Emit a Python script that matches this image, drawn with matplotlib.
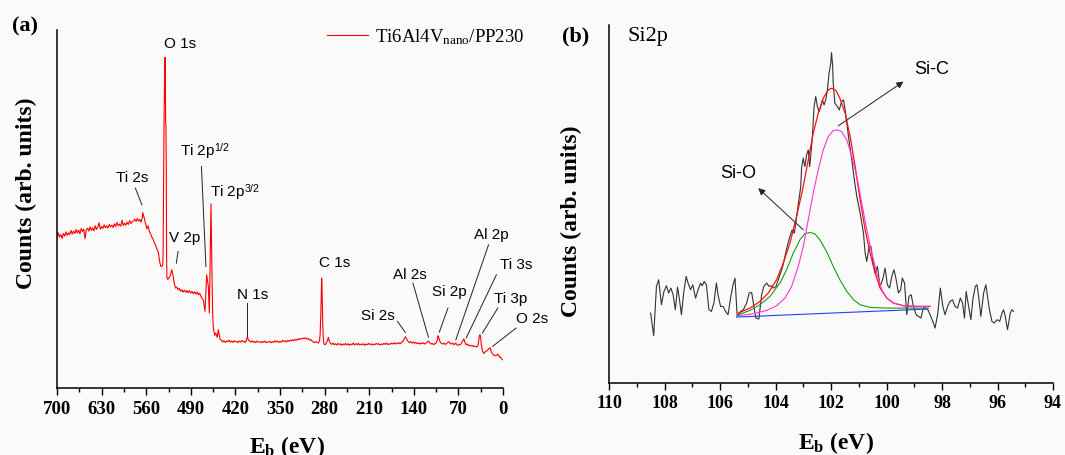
import matplotlib
matplotlib.use("Agg")
import matplotlib.pyplot as plt

plt.rcParams['font.family'] = 'Liberation Serif'
plt.rcParams['mathtext.fontset'] = 'custom'
plt.rcParams['mathtext.rm'] = 'Liberation Serif'
plt.rcParams['mathtext.it'] = 'Liberation Serif:italic'
plt.rcParams['mathtext.bf'] = 'Liberation Serif:bold'
plt.rcParams['mathtext.sf'] = 'Liberation Sans'

# ---- (a) survey spectrum, Ti6Al4Vnano/PP230 ----
survey_eb = [700, 698, 696, 694, 692, 690, 688, 686, 684, 682, 680, 678, 676, 674, 672, 670, 668, 666, 664,
             662, 660, 658, 656, 654, 652, 650, 648, 646, 644, 642, 640, 638, 636, 634, 632, 630, 628, 626,
             624, 622, 620, 618, 616, 614, 612, 610, 608, 606, 604, 602, 600, 598, 596, 594, 592, 590, 588,
             586, 584, 582, 580, 578, 576, 574, 572, 570, 568, 566, 565.5, 563, 561, 559, 557, 555, 553, 551,
             549, 547, 545, 543, 541, 539, 537, 535.7, 534, 533.5, 533, 532, 531, 530.5, 530, 529.5, 529,
             528.5, 528, 527.5, 526, 524, 522, 520, 518, 516, 514, 512, 510, 508, 506, 504, 502, 500, 498,
             496, 494, 492, 490, 488, 486, 484, 482, 480, 478, 476, 474, 472, 470.4, 467.7, 465.1, 462.5,
             460.9, 459.5, 458.3, 456.7, 455.6, 454.6, 452.5, 450.7, 448.5, 446.8, 444, 441.5,
             440, 438, 436, 434, 432, 430, 428, 426, 424, 422, 420, 418, 416, 414, 412, 410, 408, 406, 404,
             402, 401, 400, 398, 396, 394, 392, 390, 388, 386, 384, 382, 380, 378, 376, 374, 372, 370, 368,
             366, 364, 362, 360, 358, 356, 354, 352, 350, 348, 346, 344, 342, 340, 338, 336, 334, 332, 330,
             328, 326, 324, 322, 320, 318, 316, 314, 312, 310, 308, 306, 304, 302, 300, 298, 296, 294, 292,
             290, 288, 287, 286, 285, 284.6, 284, 283, 282, 281, 279, 277, 275, 274, 273, 271, 269, 267, 265,
             263, 261, 259, 257, 255, 253, 251, 249, 247, 245, 243, 241, 239, 237, 235, 233, 231, 229, 227,
             225, 223, 221, 219, 217, 215, 213, 211, 209, 207, 205, 203, 201, 199, 197, 195, 193, 191, 189,
             187, 185, 183, 181, 179, 177, 175, 173, 171, 169, 167, 165, 163, 161, 159, 157, 155, 153, 151,
             149, 147, 145, 143, 141, 139, 137, 135, 133, 131, 129, 127, 125, 123, 121, 119, 117, 115, 113,
             111, 109, 107, 105, 103, 102, 101, 99, 97, 95, 93, 91, 89, 87, 85, 83, 81, 79, 77, 75, 74, 73,
             71, 69, 67, 65, 63, 62, 61, 60, 58, 56, 54, 52, 50, 48, 46, 44, 42, 40, 39, 38, 37, 36, 35, 34,
             33, 32, 31, 30, 29, 28, 26, 24, 22, 21, 20, 19, 18, 16, 14, 12, 10, 9, 8, 7, 6, 5, 4, 3, 2, 1]
survey_counts = [45.0, 46.6, 45.3, 46.1, 44.9, 46.4, 45.6, 46.9, 45.8, 46.6, 46.1, 47.3, 46.2, 47.1, 46.4, 47.6, 46.5, 47.4, 46.3,
                 47.9, 47.0, 47.7, 44.8, 47.5, 48.0, 47.1, 48.4, 47.3, 48.1, 47.2, 48.7, 47.6, 48.3, 49.6, 47.7, 48.5, 47.9, 49.0,
                 48.1, 48.7, 48.0, 49.1, 48.4, 48.9, 48.2, 49.3, 48.5, 49.7, 48.7, 49.2, 48.6, 50.4, 48.8, 49.5, 48.9, 49.8, 49.1,
                 50.3, 49.4, 49.9, 50.2, 50.7, 50.0, 50.9, 50.1, 50.6, 49.8, 51.2, 52.7, 51.0, 49.3, 47.8, 48.7, 47.0, 46.2, 45.3,
                 44.6, 43.5, 42.8, 41.6, 40.8, 38.0, 36.5, 36.5, 37.0, 40.0, 55.0, 80.0, 95.0, 99.3, 92.0, 80.0, 78.5,
                 65.0, 40.0, 33.0, 32.6, 33.2, 33.8, 35.5, 34.0, 31.5, 30.0, 30.3, 29.5, 29.9, 29.0, 29.5, 28.8, 29.4, 28.7,
                 29.3, 28.6, 29.2, 28.5, 29.0, 28.3, 28.9, 28.2, 28.8, 28.0, 28.5, 27.4, 26.8, 26.5, 23.0, 34.0, 30.5,
                 22.5, 40.0, 55.3, 33.5, 21.5, 18.0, 15.8, 16.5, 15.2, 17.5, 14.6, 14.3,
                 13.8, 14.2, 13.7, 14.1, 13.9, 14.4, 13.8, 14.1, 13.7, 14.2, 13.9, 14.0, 13.6, 14.1, 13.8, 14.3, 13.9, 14.0, 13.7,
                 14.8, 15.4, 14.6, 14.1, 13.8, 14.2, 13.7, 14.0, 13.6, 14.1, 13.8, 13.9, 13.6, 14.0, 13.7, 14.1, 13.6, 13.9, 13.7,
                 14.0, 13.6, 13.9, 13.7, 14.2, 13.8, 14.1, 13.7, 14.0, 13.8, 14.3, 13.9, 14.2, 13.8, 14.3, 14.0, 14.4, 14.1, 14.5,
                 14.2, 14.6, 14.3, 14.8, 14.5, 14.9, 14.7, 15.0, 14.8, 15.1, 14.7, 14.9, 14.4, 14.6, 14.1, 13.9, 13.6, 13.9, 13.7,
                 13.5, 14.2, 16.0, 22.0, 30.0, 33.0, 30.0, 20.0, 14.5, 13.2, 13.0, 13.6, 14.6, 15.2, 14.2, 13.4, 13.1, 13.5, 13.0,
                 13.3, 12.9, 13.4, 13.0, 13.3, 12.8, 13.2, 13.0, 13.4, 12.9, 13.3, 12.8, 13.2, 13.0, 13.5, 12.9, 13.3, 13.0, 13.4,
                 12.9, 13.2, 13.0, 13.3, 12.8, 13.2, 13.0, 13.4, 13.0, 13.3, 12.9, 13.2, 13.0, 13.4, 13.1, 13.3, 12.9, 13.2, 13.0,
                 13.4, 13.1, 13.5, 13.0, 13.3, 13.1, 13.5, 13.2, 13.6, 13.2, 13.5, 13.3, 13.6, 13.3, 13.8, 14.0, 14.8, 15.4, 14.6,
                 14.0, 13.6, 13.9, 13.5, 13.8, 13.4, 13.7, 13.3, 13.6, 13.2, 13.5, 13.3, 13.6, 13.2, 13.5, 13.8, 14.1, 13.6, 13.2,
                 13.4, 13.0, 13.3, 13.5, 14.4, 15.7, 15.2, 14.0, 13.4, 13.2, 13.5, 13.1, 13.3, 13.6, 13.9, 13.4, 13.2, 13.5, 13.0, 13.3, 13.5, 13.1,
                 12.8, 13.0, 13.0, 13.5, 14.2, 14.7, 14.6, 13.8, 13.0, 13.2, 12.7, 12.9, 12.6, 12.8, 12.4, 12.6, 12.3, 12.5, 13.0, 14.5, 15.8, 16.0, 15.0, 13.0,
                 11.8, 11.0, 10.6, 10.4, 10.6, 10.9, 11.1, 11.4, 11.8, 12.0, 12.0, 11.4, 10.7, 10.2, 9.8, 9.7, 9.8, 10.0, 10.1, 9.9, 9.5, 9.2, 9.3, 9.0, 8.8, 8.5]

# peak labels: text, label position (eV, counts), leader line or None
survey_labels = ['O 1s', 'Ti 2s', 'V 2p', r'Ti 2p$^{\mathsf{1/2}}$', r'Ti 2p$^{\mathsf{3/2}}$', 'N 1s',
                 'C 1s', 'Si 2s', 'Al 2s', 'Si 2p', 'Al 2p', 'Ti 3s', 'Ti 3p', 'O 2s']
label_eb = [506.8, 582.3, 499.2, 468.0, 420.0, 393.4, 264.5, 197.0, 146.8, 84.7, 18.9, -21.0, -12.0, -45.0]
label_counts = [103.3, 63.2, 45.0, 71.0, 58.5, 28.0, 37.5, 21.5, 34.0, 28.8, 45.8, 36.8, 26.8, 20.8]
leader_lines = [None,
                ((566.7, 55.0), (577.0, 60.0)),
                ((512.7, 37.5), (510.0, 41.0)),
                ((466.3, 36.5), (473.3, 66.5)),
                None,
                ((401.5, 15.5), (401.5, 25.5)),
                None,
                ((153.3, 16.7), (165.7, 20.0)),
                ((117.1, 15.3), (141.4, 31.5)),
                ((99.9, 16.8), (86.4, 24.0)),
                ((74.0, 14.5), (22.7, 43.0)),
                ((57.8, 15.0), (10.3, 34.0)),
                ((32.4, 16.5), (8.1, 24.0)),
                ((16.2, 12.5), (-20.5, 18.0))]

# ---- (b) Si2p high resolution ----
si_eb = [108.50, 108.39, 108.29, 108.21, 108.11, 108.02, 107.93, 107.85, 107.77, 107.69, 107.61, 107.53,
         107.46, 107.39, 107.31, 107.22, 107.15, 107.06, 106.98, 106.88, 106.79, 106.70, 106.64, 106.57,
         106.49, 106.40, 106.31, 106.22, 106.13, 106.07, 105.98, 105.89, 105.80, 105.71, 105.61, 105.53,
         105.46, 105.38, 105.26, 105.16, 105.04, 104.95, 104.86, 104.78, 104.71, 104.60, 104.50, 104.42,
         104.32, 104.23, 104.14, 104.08, 103.98, 103.90, 103.82, 103.74, 103.66, 103.58, 103.48, 103.40,
         103.32, 103.28, 103.21, 103.14, 103.09, 103.06, 103.00, 102.94, 102.88, 102.82, 102.77, 102.71,
         102.67, 102.61, 102.55, 102.49, 102.43, 102.37, 102.31, 102.25, 102.19, 102.13, 102.07, 102.01,
         101.98, 101.94, 101.92, 101.86, 101.77, 101.70, 101.62, 101.55, 101.49, 101.43, 101.37, 101.25,
         101.16, 101.07, 100.95, 100.83, 100.77, 100.71, 100.63, 100.56, 100.50, 100.41, 100.33, 100.23,
         100.14, 100.05, 99.97, 99.89, 99.81, 99.73, 99.65, 99.57, 99.49, 99.43, 99.35, 99.27, 99.19,
         99.11, 99.03, 98.93, 98.85, 98.76, 98.67, 98.58, 98.51, 98.43, 98.33, 98.25, 98.15, 98.06, 97.97,
         97.89, 97.80, 97.71, 97.62, 97.53, 97.44, 97.34, 97.26, 97.19, 97.13, 97.04, 96.96, 96.89, 96.80,
         96.74, 96.68, 96.60, 96.50, 96.42, 96.36, 96.29, 96.20, 96.12, 96.02, 95.92, 95.84, 95.78, 95.72,
         95.64, 95.54, 95.48, 95.42]
si_counts = [21.0, 14.2, 29.0, 31.0, 23.5, 27.5, 29.2, 27.0, 28.5, 26.5, 22.0, 28.8,
             25.0, 20.5, 27.0, 32.0, 30.0, 28.0, 29.5, 25.5, 28.0, 30.0, 29.2, 30.5,
             29.5, 22.0, 21.5, 24.0, 30.0, 26.5, 23.0, 23.0, 21.5, 20.5, 26.0, 29.5,
             31.5, 20.0, 21.5, 22.0, 24.0, 27.0, 27.2, 23.0, 19.5, 19.2, 26.5, 29.0,
             30.0, 29.0, 29.2, 28.5, 29.0, 31.0, 33.0, 35.0, 38.0, 41.0, 44.0, 46.0,
             45.0, 47.5, 52.0, 56.0, 59.0, 64.5, 67.5, 65.0, 68.5, 70.0, 65.0, 70.0,
             74.0, 83.0, 86.0, 83.0, 81.5, 83.0, 85.0, 83.5, 85.0, 88.0, 93.0, 96.0,
             99.2, 95.0, 90.0, 84.0, 83.0, 82.0, 84.5, 85.0, 82.0, 78.0, 74.0, 67.0,
             61.0, 56.0, 51.0, 45.0, 39.0, 36.5, 41.0, 41.0, 37.0, 33.0, 35.0, 29.0,
             31.0, 34.5, 29.5, 28.5, 32.0, 34.0, 31.0, 27.0, 28.0, 31.5, 30.0, 20.5, 26.0,
             26.5, 23.0, 20.5, 20.0, 19.5, 22.5, 22.5, 22.0, 20.5, 18.5, 16.5, 21.0, 28.5, 23.0,
             20.5, 23.0, 24.5, 25.0, 23.0, 22.5, 25.5, 24.0, 19.5, 27.5, 23.0, 19.0, 25.0, 29.0,
             29.5, 26.0, 20.0, 27.0, 29.5, 26.0, 22.0, 18.5, 18.0, 19.0, 18.5, 21.0, 22.0, 20.0,
             16.0, 21.0, 22.0, 21.5]

fit_sum_eb = [105.34, 104.92, 104.56, 104.26, 103.96, 103.72, 103.48, 103.24, 103.00, 102.82, 102.64,
              102.46, 102.28, 102.10, 101.98, 101.82, 101.68, 101.49, 101.31, 101.13, 100.95, 100.77,
              100.59, 100.41, 100.23, 99.99, 99.75, 99.39, 98.91, 98.43]
fit_sum_counts = [21.0, 22.5, 24.5, 27.0, 31.0, 36.0, 42.0, 50.0, 59.0, 67.0, 75.0,
                  81.0, 85.5, 88.0, 88.5, 87.8, 85.5, 81.0, 74.0, 65.0, 55.0, 46.0,
                  39.0, 33.0, 28.5, 25.5, 24.0, 23.2, 23.0, 23.0]
sic_eb = [105.34, 104.80, 104.32, 103.96, 103.66, 103.42, 103.18, 103.00, 102.82, 102.64, 102.46, 102.28,
          102.10, 101.92, 101.77, 101.62, 101.43, 101.25, 101.07, 100.89, 100.71, 100.53, 100.35, 100.17,
          99.99, 99.75, 99.39, 98.91, 98.43]
sic_counts = [20.2, 20.8, 21.8, 23.2, 25.5, 29.0, 35.0, 41.0, 49.0, 57.0, 64.0, 70.0,
              74.0, 75.8, 76.0, 75.5, 73.0, 68.0, 62.0, 54.0, 46.0, 39.0, 33.0, 28.0,
              25.5, 24.0, 23.2, 23.0, 23.0]
sio_eb = [105.34, 104.92, 104.56, 104.20, 103.84, 103.60, 103.36, 103.12, 102.94, 102.76, 102.58, 102.40,
          102.16, 101.92, 101.68, 101.43, 101.19, 100.95, 100.59, 99.99, 99.27, 98.49]
sio_counts = [20.5, 21.8, 23.5, 26.0, 30.0, 34.0, 39.0, 43.0, 44.8, 45.2, 44.8, 43.0,
              39.5, 35.0, 31.0, 27.5, 25.0, 23.5, 22.7, 22.5, 22.5, 22.5]
bg_eb = [105.40, 98.55]
bg_counts = [19.8, 22.2]

fig = plt.figure(figsize=(10.65, 4.55), dpi=100, facecolor='#fafafa')

def style_axes(ax, tick_size):
  for side in ['top', 'right']:
    ax.spines[side].set_visible(False)
  for side in ['left', 'bottom']:
    ax.spines[side].set_linewidth(1.1)
  ax.set_facecolor('none')
  ax.set_yticks([])
  ax.tick_params(axis='x', which='major', direction='out', length=5, width=1.0, pad=4, labelsize=tick_size)
  ax.tick_params(axis='x', which='minor', direction='out', length=3, width=1.0)
  for lab in ax.get_xticklabels():
    lab.set_fontweight('bold')

# panel (a)
ax1 = fig.add_axes([57 / 1065, 67 / 455, 446 / 1065, 358 / 455])
ax1.plot(survey_eb, survey_counts, color='#ff0000', lw=0.8, label=r'Ti6Al4V$_{\mathrm{nano}}$/PP230')
ax1.set_xlim(700, 0)
ax1.set_ylim(0, 107.5)
ax1.set_xticks(range(0, 701, 70))
ax1.set_xticks(range(35, 700, 70), minor=True)
style_axes(ax1, 13.5)
for text, x, y, seg in zip(survey_labels, label_eb, label_counts, leader_lines):
  ax1.text(x, y, text, family='Liberation Sans', fontsize=11, ha='center', va='center', clip_on=False)
  if seg is not None:
    ax1.plot([seg[0][0], seg[1][0]], [seg[0][1], seg[1][1]], color='#222222', lw=0.7, clip_on=False)
ax1.set_xlabel(r'E$_{\mathbf{b}}$ (eV)', fontsize=17, fontweight='bold')
ax1.xaxis.set_label_coords(0.516, -0.128)
ax1.set_ylabel('Counts (arb. units)', fontsize=17, fontweight='bold')
ax1.yaxis.set_label_coords(-0.045, 0.545)
leg = ax1.legend(loc='upper left', bbox_to_anchor=(327 / 1065, 428 / 455), bbox_transform=fig.transFigure,
                 frameon=False, fontsize=13.5, handlelength=2.2, handletextpad=0.35, borderpad=0,
                 borderaxespad=0)
fig.text(25 / 1065, 1 - 26 / 455, '(a)', fontsize=16, fontweight='bold', ha='center', va='center')

# panel (b)
ax2 = fig.add_axes([609 / 1065, 72 / 455, 444 / 1065, 358 / 455])
ax2.plot(si_eb, si_counts, color='#333333', lw=0.8)
ax2.plot(bg_eb, bg_counts, color='#2244ee', lw=0.8)
ax2.plot(sio_eb, sio_counts, color='#1a9a1a', lw=0.8)
ax2.plot(fit_sum_eb, fit_sum_counts, color='#ff1010', lw=0.9)
ax2.plot(sic_eb, sic_counts, color='#ff33dd', lw=0.8)
ax2.set_xlim(110, 94)
ax2.set_ylim(0, 107.5)
ax2.set_xticks(range(94, 111, 2))
ax2.set_xticks(range(95, 110, 2), minor=True)
style_axes(ax2, 13)
ax2.annotate('', xy=(99.39, 90.5), xytext=(101.74, 77.2),
             arrowprops=dict(arrowstyle='-|>', color='#222222', lw=0.7, mutation_scale=10, shrinkA=0, shrinkB=0))
ax2.annotate('', xy=(104.62, 58.5), xytext=(103.00, 46.0),
             arrowprops=dict(arrowstyle='-|>', color='#222222', lw=0.7, mutation_scale=10, shrinkA=0, shrinkB=0))
ax2.text(98.37, 94.2, 'Si-C', family='Liberation Sans', fontsize=13, ha='center', va='center')
ax2.text(105.34, 62.8, 'Si-O', family='Liberation Sans', fontsize=13, ha='center', va='center')
ax2.set_xlabel(r'E$_{\mathbf{b}}$ (eV)', fontsize=17, fontweight='bold')
ax2.xaxis.set_label_coords(0.511, -0.131)
ax2.set_ylabel('Counts (arb. units)', fontsize=17, fontweight='bold')
ax2.yaxis.set_label_coords(-0.061, 0.4525)
fig.text(576 / 1065, 1 - 36 / 455, '(b)', fontsize=16, fontweight='bold', ha='center', va='center')
fig.text(648 / 1065, 1 - 37 / 455, 'Si2p', fontsize=16, ha='center', va='center')

plt.savefig('out.png', dpi=100, facecolor=fig.get_facecolor())
plt.close()
